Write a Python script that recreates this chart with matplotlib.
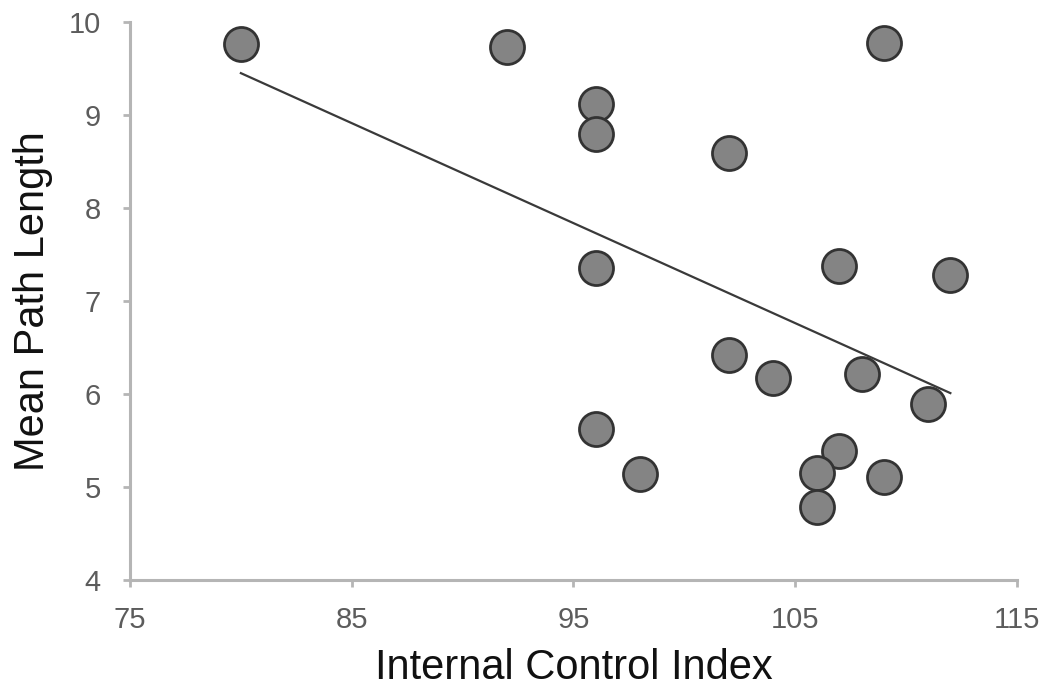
import matplotlib
matplotlib.use("Agg")
import matplotlib.pyplot as plt

plt.rcParams['font.family'] = ['Liberation Sans', 'DejaVu Sans']

# data
icx = [80, 92, 109, 96, 96, 102, 96, 107, 112, 102, 104, 108, 111, 96, 98, 107, 106, 106, 109]
path_len = [9.76, 9.73, 9.77, 9.12, 8.80, 8.59, 7.35, 7.38, 7.28, 6.42, 6.17, 6.22, 5.89,
            5.62, 5.14, 5.39, 5.15, 4.78, 5.11]
trend_x = [80, 112]
trend_y = [9.45, 6.01]
xticks = [75, 85, 95, 105, 115]
yticks = [4, 5, 6, 7, 8, 9, 10]

fig = plt.figure(figsize=(10.52, 6.98), dpi=100)
ax = fig.add_axes([0.1236, 0.169, 0.843, 0.7995])

ax.plot(trend_x, trend_y, color='#3a3a3a', lw=1.6, zorder=2)
ax.plot(icx, path_len, 'o', ms=24.5, mfc='#848484', mec='#333333', mew=2.0,
        zorder=3, clip_on=False)

ax.set_xlim(75, 115)
ax.set_ylim(4, 10)
ax.set_xticks(xticks)
ax.set_yticks(yticks)

for s in ['top', 'right']:
    ax.spines[s].set_visible(False)
for s in ['left', 'bottom']:
    ax.spines[s].set_color('#b5b5b5')
    ax.spines[s].set_linewidth(2.2)

ax.tick_params(axis='both', colors='#b5b5b5', width=2, length=5,
               labelcolor='#5c5c5c', labelsize=21)
ax.tick_params(axis='y', pad=16)
ax.tick_params(axis='x', pad=14)

ax.set_xlabel('Internal Control Index', fontsize=30, color='#111111', labelpad=10)
ax.set_ylabel('Mean Path Length', fontsize=30, color='#111111', labelpad=11)

fig.savefig('out.png', dpi=100, facecolor='white')
